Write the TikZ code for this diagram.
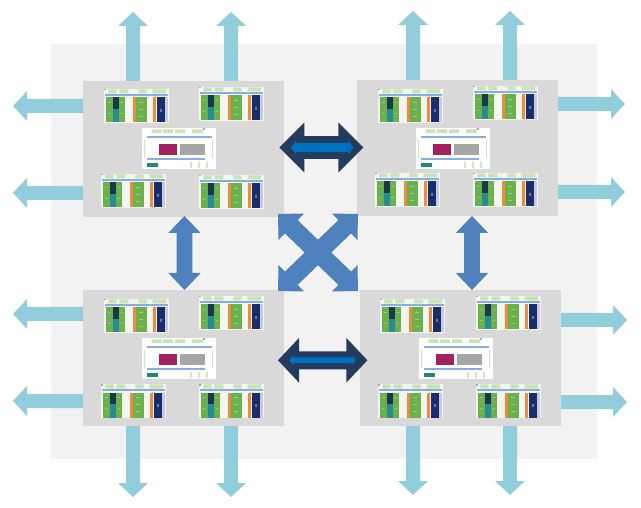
\documentclass[tikz,border=0pt]{standalone}
\usepackage{tikz}
\definecolor{bgc}{HTML}{F2F2F2}
\definecolor{blockc}{HTML}{D9D9D9}
\definecolor{aquac}{HTML}{92CDDC}
\definecolor{steelc}{HTML}{4F81BD}
\definecolor{navyc}{HTML}{243B5E}
\definecolor{innerc}{HTML}{0070C0}
\definecolor{chipbg}{HTML}{F2F5F0}
\definecolor{tabc}{HTML}{C9E3B5}
\definecolor{linec}{HTML}{86AEE3}
\definecolor{greenc}{HTML}{6AB04C}
\definecolor{darkc}{HTML}{17394A}
\definecolor{tealc}{HTML}{2A8A94}
\definecolor{orangec}{HTML}{F08A3C}
\definecolor{chipnavy}{HTML}{1A2D6B}
\definecolor{lilac}{HTML}{C9C6E6}
\definecolor{magc}{HTML}{A3215F}
\definecolor{greyc}{HTML}{A6A6A6}
\definecolor{boxteal}{HTML}{1E8A72}
\definecolor{faintg}{HTML}{CFE5C3}
\tikzset{
  block/.style={fill=blockc, draw=none, minimum width=201pt, minimum height=136pt, inner sep=0pt, anchor=north west},
  pics/sarrow/.style={code={
    \fill[aquac] (0,-7) -- ({#1-14},-7) -- ({#1-14},-15) -- (#1,0) -- ({#1-14},15) -- ({#1-14},7) -- (0,7) -- cycle;}},
  pics/dbl/.style n args={5}{code={
    \fill[#5] (-#1,0) -- ({-#1+#2},#3) -- ({-#1+#2},#4) -- ({#1-#2},#4) -- ({#1-#2},#3) -- (#1,0)
      -- ({#1-#2},-#3) -- ({#1-#2},-#4) -- ({-#1+#2},-#4) -- ({-#1+#2},-#3) -- cycle;}},
  pics/chip/.style={code={
    \fill[chipbg] (0,0) rectangle (65,34);
    \fill[greyc] (0,0) rectangle (1.5,1.5);
    \fill[tabc] (4.3,0.3) rectangle (12.7,4.5) (15.3,0.3) rectangle (24.3,4.5)
                (34.3,0.3) rectangle (42.7,4.5) (48.7,0.3) rectangle (62,4.5);
    \fill[linec] (1,5) rectangle (64,6.6);
    \fill[greenc] (2,8.5) rectangle (8.5,33.5);
    \fill[darkc] (8.5,8.5) rectangle (14.5,20);
    \fill[tealc] (8.5,20) rectangle (14.5,33.5);
    \fill[greenc] (14.5,8.5) rectangle (21,33.5);
    \fill[orangec] (29,8.5) rectangle (31.5,33.5);
    \fill[greenc] (31.5,8.5) rectangle (42.5,33.5);
    \fill[orangec] (49,8.5) rectangle (51.5,33.5);
    \fill[chipnavy] (53,8.5) rectangle (61,33.5);
    \fill[lilac] (61,8.5) rectangle (63.5,33.5);
    \fill[white, opacity=0.35] (4,13) rectangle (6.5,14) (4,24) rectangle (6.5,25)
      (16.5,13) rectangle (19,14) (16.5,24) rectangle (19,25)
      (35,13) rectangle (39,14) (35,20) rectangle (39,21) (35,27) rectangle (39,28)
      (56,20) rectangle (58,23);
  }},
  pics/hub/.style={code={
    \fill[white] (0,0) rectangle (74,41);
    \fill[tabc] (9.7,1.5) rectangle (19.7,5) (21,1.5) rectangle (31,5)
                (33,1.5) rectangle (43,5) (50,1.5) rectangle (61,5);
    \fill[greyc] (61,0) rectangle (63,2);
    \fill[linec] (4.7,8.5) rectangle (69.7,10);
    \fill[faintg] (1.8,12) rectangle (3,30) (70,12) rectangle (71.2,30);
    \fill[magc] (17.3,15.7) rectangle (35.3,27.3);
    \fill[greyc] (38,15.7) rectangle (63.3,27);
    \fill[linec] (4.7,30.5) rectangle (63,32);
    \fill[boxteal] (4.7,35.3) rectangle (16.3,38.7);
    \fill[faintg] (48,34) rectangle (50,40) (56,34) rectangle (58,40) (64,34) rectangle (66,40);
  }}
}
\begin{document}
\begin{tikzpicture}[x=1pt, y=-1pt]
\useasboundingbox (0,0) rectangle (641,508);
% background panel
\fill[bgc] (51,44) rectangle (597,459);

% outgoing light arrows (drawn under the blocks)
% top-left block
\pic[rotate=90]  at (133,84) {sarrow=72};
\pic[rotate=90]  at (231,84) {sarrow=72};
\pic[rotate=180] at (86,106) {sarrow=73};
\pic[rotate=180] at (86,193) {sarrow=73};
% top-right block
\pic[rotate=90]  at (413,83) {sarrow=72};
\pic[rotate=90]  at (510,83) {sarrow=72};
\pic at (555,104) {sarrow=70};
\pic at (555,192) {sarrow=70};
% bottom-left block
\pic[rotate=180] at (86,314) {sarrow=73};
\pic[rotate=180] at (86,401) {sarrow=73};
\pic[rotate=-90] at (133,424) {sarrow=73};
\pic[rotate=-90] at (231,424) {sarrow=73};
% bottom-right block
\pic at (558,320) {sarrow=69};
\pic at (558,402) {sarrow=69};
\pic[rotate=-90] at (413,424) {sarrow=71};
\pic[rotate=-90] at (510,424) {sarrow=71};

% blocks
\node[block] (tl) at (83,81) {};
\node[block] (tr) at (357,80) {};
\node[block] (bl) at (83,290) {};
\node[block] (br) at (360,290) {};

% thumbnails: top-left block
\pic at (104,89) {chip};
\pic at (199,87) {chip};
\pic at (142,128) {hub};
\pic at (101,174) {chip};
\pic at (199,175) {chip};
% top-right block
\pic at (378,89) {chip};
\pic at (473,86) {chip};
\pic at (416,128) {hub};
\pic at (375,173) {chip};
\pic at (473,173) {chip};
% bottom-left block
\pic at (104,299) {chip};
\pic at (199,296) {chip};
\pic at (142,338) {hub};
\pic at (101,384) {chip};
\pic at (199,384) {chip};
% bottom-right block
\pic at (380,299) {chip};
\pic at (476,296) {chip};
\pic at (419,338) {hub};
\pic at (378,384) {chip};
\pic at (476,384) {chip};

% horizontal links (navy with inner blue)
\pic at (321.3,147.5) {dbl={42}{25}{25}{11.3}{navyc}};
\pic at (322.2,147.5) {dbl={31.2}{5}{6.5}{4.5}{innerc}};
\pic at (322.7,360.3) {dbl={44.7}{21}{22.3}{9}{navyc}};
\pic at (322.4,360.3) {dbl={33.4}{4}{4.5}{2.8}{innerc}};

% vertical links
\pic[rotate=90] at (184.5,253) {dbl={37}{17}{16.2}{7.8}{steelc}};
\pic[rotate=90] at (472,253) {dbl={37}{17}{16.2}{7.8}{steelc}};

% diagonal cross
\pic[rotate=-43.9] at (318,252.5) {dbl={55.5}{18.4}{18.4}{9.2}{steelc}};
\pic[rotate=43.9]  at (318,252.5) {dbl={55.5}{18.4}{18.4}{9.2}{steelc}};
\end{tikzpicture}
\end{document}
